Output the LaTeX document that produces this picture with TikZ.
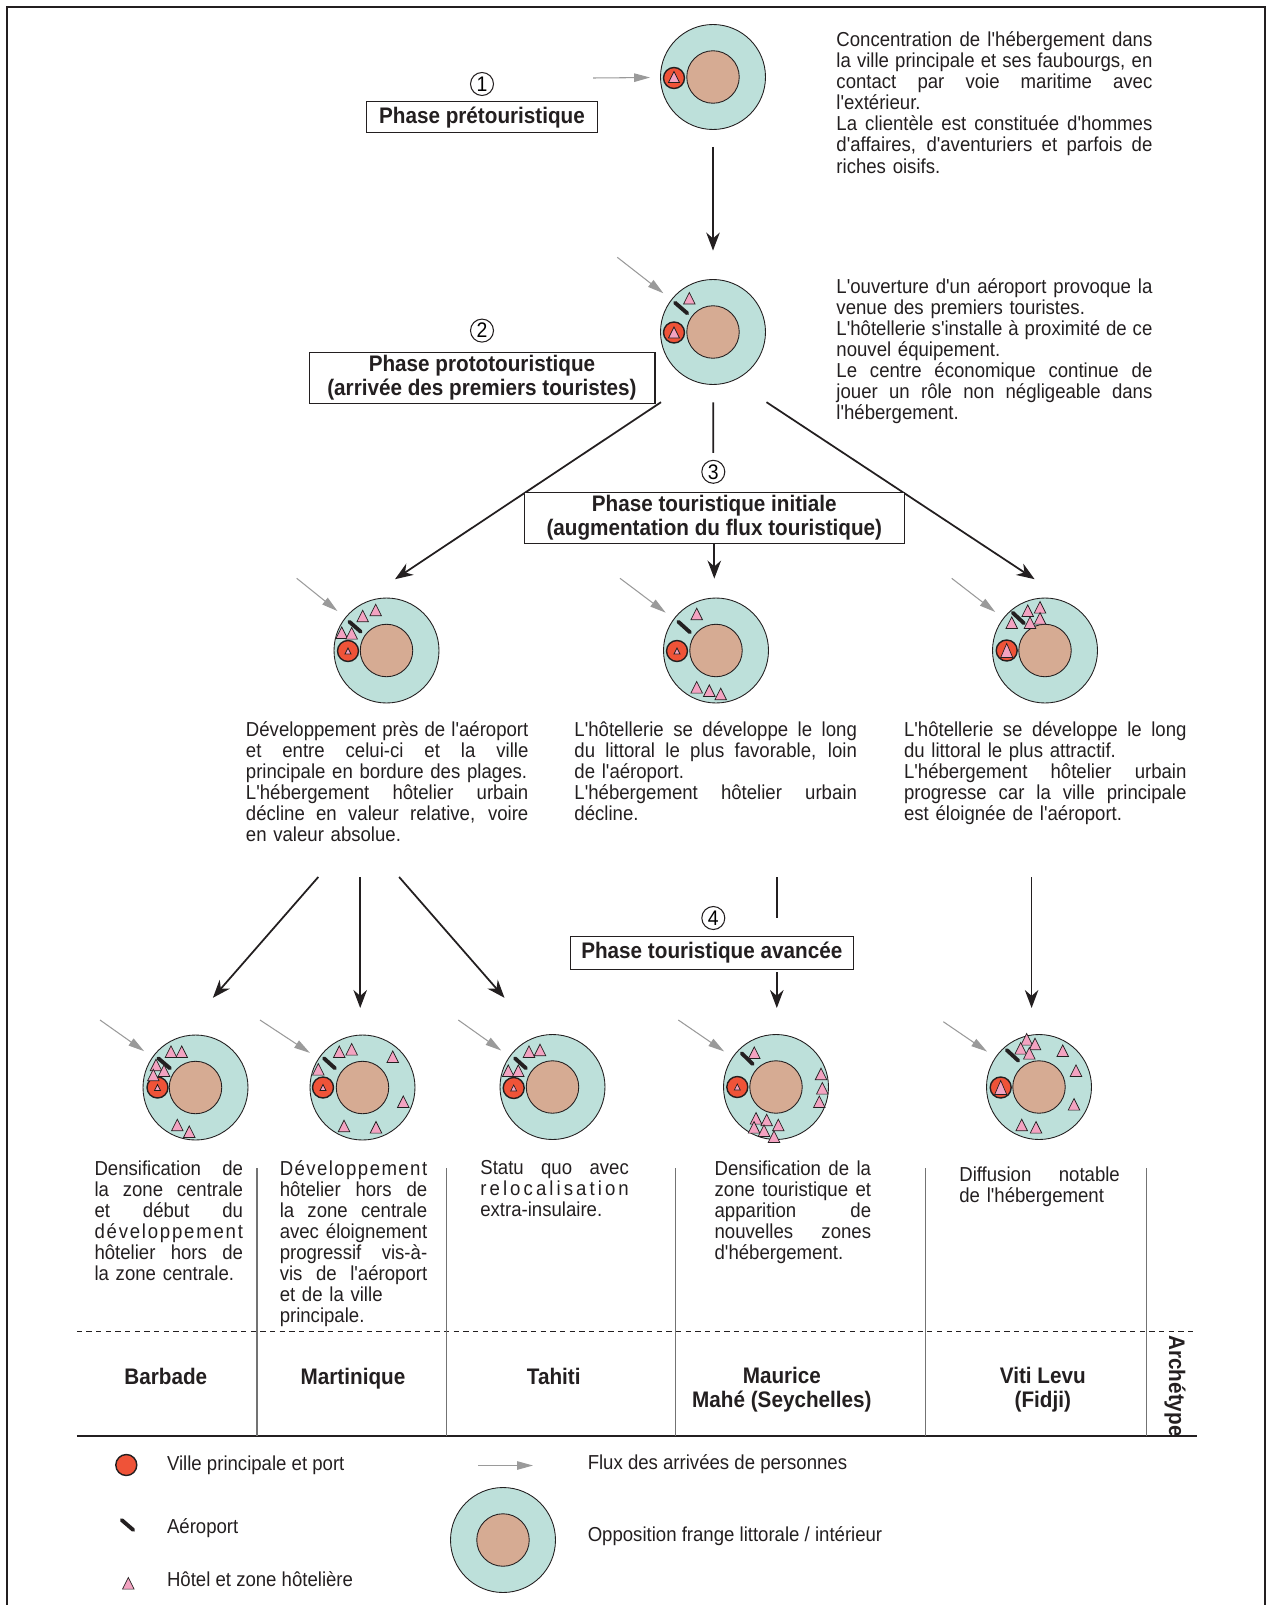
\documentclass[tikz,border=0pt]{standalone}
\usepackage{fontspec}
\setmainfont{Liberation Sans}[FakeStretch=0.92, Ligatures=TeXOff]
\usetikzlibrary{arrows.meta}
\definecolor{sea}{HTML}{BDE0DA}
\definecolor{land}{HTML}{D6AB93}
\definecolor{townred}{HTML}{EF5338}
\definecolor{hotelpink}{HTML}{F3A3C1}
\definecolor{flux}{HTML}{9A9A9A}
\definecolor{ink}{HTML}{231F20}
\setlength{\parindent}{0pt}
\newcommand{\jline}[1]{\hbox to\hsize{\spaceskip=\fontdimen2\font plus 1fil minus \fontdimen4\font\relax #1}\par}
\newcommand{\rline}[1]{\hbox to\hsize{#1\hfil}\par}
\newcommand{\txtsize}{\fontsize{11.5}{12}\selectfont}
\newcommand{\lblsize}{\fontsize{12.8}{14}\selectfont\bfseries}
\tikzset{
  isle/.style={circle, draw=ink, line width=0.5pt, fill=sea, minimum size=2.1cm, inner sep=0pt},
  core/.style={circle, draw=ink, line width=0.5pt, fill=land, minimum size=1.05cm, inner sep=0pt},
  town/.style={circle, draw=ink, line width=0.8pt, fill=townred, minimum size=0.42cm, inner sep=0pt},
  hotel/.style={draw=ink, line width=0.4pt, fill=hotelpink},
  runway/.style={draw=ink, line width=2.2pt, line cap=round},
  flow/.style={draw=ink, line width=1pt, -{Stealth[length=0.36cm,width=0.27cm]}},
  trunk/.style={draw=ink, line width=1pt},
  inflow/.style={draw=flux, line width=0.6pt, -{Triangle[length=0.32cm,width=0.17cm]}, shorten >=0.2cm},
  phasebox/.style={draw=ink, line width=0.6pt, fill=white, inner sep=0pt, align=center, font=\lblsize, text=ink},
  num/.style={circle, draw=ink, line width=0.6pt, minimum size=0.46cm, inner sep=0pt, font=\fontsize{12}{12}\selectfont},
  txt/.style={inner sep=0pt, anchor=north west, font=\txtsize, text=ink},
  lbl/.style={inner sep=0pt, font=\lblsize, text=ink},
  legtxt/.style={inner sep=0pt, anchor=base west, font=\txtsize, text=ink},
  tabsep/.style={draw=black!55, line width=0.7pt}
}
\begin{document}
\begin{tikzpicture}[x=0.02cm, y=-0.02cm]
\useasboundingbox (0,0) rectangle (1267,1605);
\draw[ink, line width=0.6pt] (7,1605) -- (7,7) -- (1265,7) -- (1265,1605);

\node[isle] (isl1) at (713,77) {};
\node[isle] (isl2) at (713,332) {};
\node[isle] (isl3a) at (386.5,650.5) {};
\node[isle] (isl3b) at (716,650.5) {};
\node[isle] (isl3c) at (1045,650.5) {};
\node[isle] (isl5a) at (195.5,1087.5) {};
\node[isle] (isl5b) at (362.5,1087.5) {};
\node[isle] (isl5c) at (552.5,1087) {};
\node[isle] (isl5d) at (776,1087) {};
\node[isle] (isl5e) at (1039,1087) {};
\node[isle] (islL) at (503,1540) {};
\foreach \n in {isl1,isl2,isl3a,isl3b,isl3c,isl5a,isl5b,isl5c,isl5d,isl5e,islL}
  \node[core] (\n c) at (\n) {};

\node[town] (t1) at (674,78) {};
\node[town] (t2) at (674,332.5) {};
\node[town] (t3a) at (348,651) {};
\node[town] (t3b) at (677,651) {};
\node[town] (t3c) at (1006.7,650.5) {};
\node[town] (t5a) at (157.5,1087.5) {};
\node[town] (t5b) at (323,1087.5) {};
\node[town] (t5c) at (513.7,1088) {};
\node[town] (t5d) at (737.3,1087) {};
\node[town] (t5e) at (1000.7,1087.5) {};
\node[town] (tL) at (126.3,1465) {};

\foreach \x/\y in {674/77, 674/332.5}
  \draw[hotel] (\x,\y) ++(-5.5,5.5) -- ++(11,0) -- ++(-5.5,-11) -- cycle;
\foreach \x/\y in {348/651, 677/651, 157.5/1087.5, 323/1087.5, 513.7/1088, 737.3/1087}
  \draw[hotel] (\x,\y) ++(-3,3) -- ++(6,0) -- ++(-3,-6) -- cycle;
\foreach \x/\y in {1006.7/650.5, 1000.7/1087.5}
  \draw[hotel] (\x,\y) ++(-6,7) -- ++(12,0) -- ++(-6,-14) -- cycle;

\foreach \a/\b/\c/\d in {675/302.7/687.3/313.3, 349.3/621.7/360.7/631.7, 678.3/621.7/690/632.3,
    1012.7/612.7/1024/623.3, 158.3/1058.3/170/1068.3, 324/1058.3/335/1068.3, 515/1058.3/526/1068.3,
    741.7/1053.3/752.7/1064, 1006.7/1050/1018.3/1060.7, 121.7/1520/133.3/1530}
  \draw[runway] (\a,\b) -- (\c,\d);

\foreach \x/\y in {689.3/298.3,
    375.7/610, 362.7/616, 341.7/632.7, 351.7/633.3,
    696.7/614, 696.7/687.3, 709.3/690.7, 720.7/694,
    1027.7/610.7, 1040/607.3, 1011.7/622.7, 1030/622.7, 1040/618.3,
    171/1051.7, 181.7/1051.7, 156/1065, 164/1070.7, 153.3/1075, 177.3/1125, 189.3/1131.7,
    339.3/1051.7, 351.7/1049.3, 318.3/1069.3, 392.7/1056.7, 403.3/1101.7, 344/1126, 376/1127.3,
    529/1051.7, 540/1050, 508.3/1070.7, 518.3/1070.7,
    754.3/1052.7, 821/1074, 822.3/1088.3, 819.3/1101.7, 756/1118.3, 766.7/1120, 754/1127.3,
    764/1130.7, 778.3/1125, 774/1136.7,
    1026.7/1039.3, 1035/1044, 1020.7/1048.3, 1029.3/1053.3, 1062.7/1050.7, 1076/1070.7,
    1074/1104.3, 1021.7/1125, 1036/1127.3,
    128.3/1583.3}
  \draw[hotel] (\x,\y) ++(-5.8,5.8) -- ++(11.6,0) -- ++(-5.8,-11.6) -- cycle;

\coordinate (g1) at (593,78);
\coordinate (g2) at (617.3,257.3);
\coordinate (g3a) at (296.7,578.3);
\coordinate (g3b) at (620,578.3);
\coordinate (g3c) at (951.7,578.3);
\coordinate (g5a) at (100,1020);
\coordinate (g5b) at (260,1020);
\coordinate (g5c) at (458.3,1020);
\coordinate (g5d) at (678.3,1020);
\coordinate (g5e) at (943.3,1021.7);
\foreach \s/\t in {g1/isl1, g2/isl2, g3a/isl3a, g3b/isl3b, g3c/isl3c, g5a/isl5a, g5b/isl5b, g5c/isl5c, g5d/isl5d, g5e/isl5e}
  \draw[inflow] (\s) -- (\t);
\coordinate (gL1) at (478,1465.5);
\coordinate (gL2) at (533,1465.5);
\draw[inflow, shorten >=0pt] (gL1) -- (gL2);

\node[num] (n1) at (482,84) {1};
\node[num] (n2) at (482,330.6) {2};
\node[num] (n3) at (713.3,471.8) {3};
\node[num] (n4) at (713.3,918) {4};

\coordinate (f2l) at (661,402.2);
\coordinate (e3a) at (395,579.2);
\coordinate (f2r) at (766.5,402.2);
\coordinate (e3c) at (1034.6,579.2);
\coordinate (f3a) at (318.3,877);
\coordinate (e5a) at (212.9,997.8);
\coordinate (f3b) at (360.2,877);
\coordinate (e5b) at (360.2,1008);
\coordinate (f3c) at (399.1,877);
\coordinate (e5c) at (504.5,997.8);
\coordinate (f3d) at (776.8,877);
\coordinate (f4a) at (776.8,918);
\coordinate (f4b) at (776.8,972);
\coordinate (e5d) at (776.8,1008);
\coordinate (f3e) at (1031.6,877);
\coordinate (e5e) at (1031.6,1008);

\draw[flow, shorten <=0.34cm, shorten >=0.57cm] (isl1) -- (isl2);
\draw[trunk, shorten <=0.35cm, shorten >=0.14cm] (isl2) -- (n3);
\draw[flow] (f2l) -- (e3a);
\draw[flow] (f2r) -- (e3c);
\draw[flow] (f3a) -- (e5a);
\draw[flow] (f3b) -- (e5b);
\draw[flow] (f3c) -- (e5c);
\draw[trunk] (f3d) -- (f4a);
\draw[flow] (f4b) -- (e5d);
\draw[flow] (f3e) -- (e5e);

\node[phasebox, minimum width=4.63cm, minimum height=0.63cm] (ph1) at (482,117.2) {Phase prétouristique};
\node[phasebox, minimum width=6.92cm, minimum height=1.02cm] (ph2) at (482,377.6) {Phase prototouristique\\(arrivée des premiers touristes)};
\node[phasebox, minimum width=7.61cm, minimum height=1.02cm] (ph3) at (714.3,517.8) {Phase touristique initiale\\(augmentation du flux touristique)};
\node[phasebox, minimum width=5.67cm, minimum height=0.66cm] (ph4) at (711.8,952.8) {Phase touristique avancée};
\draw[flow, shorten >=0.38cm] (ph3.south) -- (ph3.south |- isl3b.north);

\node[txt, text width=6.32cm] (txA) at (836.1,31.3) {%
\jline{Concentration de l'hébergement dans}\jline{la ville principale et ses faubourgs, en}%
\jline{contact par voie maritime avec}\rline{l'extérieur.}%
\jline{La clientèle est constituée d'hommes}\jline{d'affaires, d'aventuriers et parfois de}%
\rline{riches oisifs.}};
\node[txt, text width=6.32cm] (txB) at (836.1,277.9) {%
\jline{L'ouverture d'un aéroport provoque la}\rline{venue des premiers touristes.}%
\jline{L'hôtellerie s'installe à proximité de ce}\rline{nouvel équipement.}%
\jline{Le centre économique continue de}\jline{jouer un rôle non négligeable dans}%
\rline{l'hébergement.}};
\node[txt, text width=5.65cm] (txC) at (245.6,721) {%
\jline{Développement près de l'aéroport}\jline{et entre celui-ci et la ville}%
\rline{principale en bordure des plages.}\jline{L'hébergement hôtelier urbain}%
\jline{décline en valeur relative, voire}\rline{en valeur absolue.}};
\node[txt, text width=5.65cm] (txD) at (574.1,721) {%
\jline{L'hôtellerie se développe le long}\jline{du littoral le plus favorable, loin}%
\rline{de l'aéroport.}\jline{L'hébergement hôtelier urbain}\rline{décline.}};
\node[txt, text width=5.65cm] (txE) at (903.7,721) {%
\jline{L'hôtellerie se développe le long}\rline{du littoral le plus attractif.}%
\jline{L'hébergement hôtelier urbain}\jline{progresse car la ville principale}%
\rline{est éloignée de l'aéroport.}};

\node[txt, text width=2.97cm] (tx5a) at (94.2,1160.1) {%
\jline{Densification de}\jline{la zone centrale}\jline{et début du}%
\jline{d\hfil é\hfil v\hfil e\hfil l\hfil o\hfil p\hfil p\hfil e\hfil m\hfil e\hfil n\hfil t}%
\jline{hôtelier hors de}\rline{la zone centrale.}};
\node[txt, text width=2.95cm] (tx5b) at (279.4,1160.1) {%
\jline{D\hfil é\hfil v\hfil e\hfil l\hfil o\hfil p\hfil p\hfil e\hfil m\hfil e\hfil n\hfil t}%
\jline{hôtelier hors de}\jline{la zone centrale}\jline{avec éloignement}%
\jline{progressif vis-à-}\jline{vis de l'aéroport}\rline{et de la ville}\rline{principale.}};
\node[txt, text width=2.97cm] (tx5c) at (480,1160.1) {%
\jline{Statu quo avec}%
\jline{r\hfil e\hfil l\hfil o\hfil c\hfil a\hfil l\hfil i\hfil s\hfil a\hfil t\hfil i\hfil o\hfil n}%
\rline{extra-insulaire.}};
\node[txt, text width=3.13cm] (tx5d) at (714.3,1160.1) {%
\jline{Densification de la}\jline{zone touristique et}\jline{apparition de}%
\jline{nouvelles zones}\rline{d'hébergement.}};
\node[txt, text width=3.21cm] (tx5e) at (959,1166.3) {%
\jline{Diffusion notable}\rline{de l'hébergement}};

\draw[ink, line width=0.7pt, dash pattern=on 3pt off 2.5pt] (76.8,1331.5) -- (1197,1331.5);
\draw[ink, line width=0.8pt] (76.8,1436) -- (1197.4,1436);
\foreach \x in {256.9,446.2,675.4,925.2,1146.2}
  \draw[tabsep] (\x,1168) -- (\x,1436);

\node[lbl, anchor=base] (tbA) at (165.8,1384.6) {Barbade};
\node[lbl, anchor=base] (tbB) at (353,1384.6) {Martinique};
\node[lbl, anchor=base] (tbC) at (553.7,1384.6) {Tahiti};
\node[lbl, align=center] (tbD) at (781.9,1389.6) {Maurice\\Mahé (Seychelles)};
\node[lbl, align=center] (tbE) at (1042.8,1389.6) {Viti Levu\\(Fidji)};
\node[lbl, rotate=-90] (tbF) at (1175,1386) {Archétype};

\node[legtxt] (lg1) at (166.7,1470.7) {Ville principale et port};
\node[legtxt] (lg2) at (166.7,1533.3) {Aéroport};
\node[legtxt] (lg3) at (166.7,1586.7) {Hôtel et zone hôtelière};
\node[legtxt] (lg4) at (587.4,1469.6) {Flux des arrivées de personnes};
\node[legtxt] (lg5) at (587.4,1541) {Opposition frange littorale / intérieur};
\end{tikzpicture}
\end{document}
